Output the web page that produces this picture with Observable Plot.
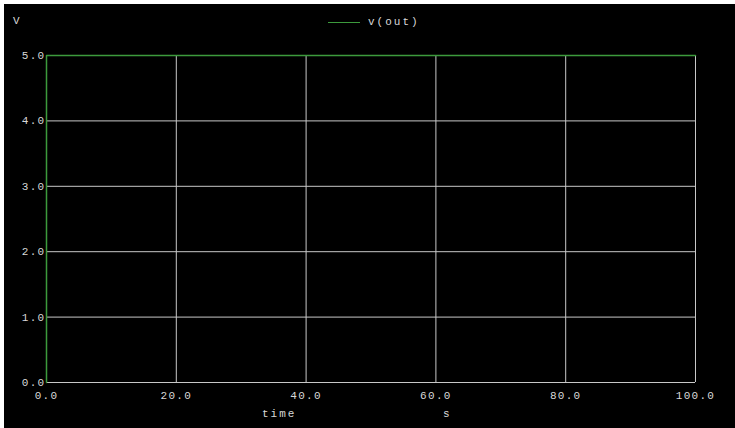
<!DOCTYPE html>
<html>
<head>
<meta charset="utf-8">
<script src="https://cdn.jsdelivr.net/npm/d3@7"></script>
<script src="https://cdn.jsdelivr.net/npm/@observablehq/plot@0.6"></script>
<style>
  html, body { margin: 0; padding: 0; background: #fff; }
  body { padding: 4px 0 0 4px; width: 735px; height: 428px; box-sizing: border-box; overflow: hidden; }
  #wrap { position: relative; width: 731px; height: 424px; background: #000; }
  #wrap svg text { letter-spacing: 1.3px; }
  .lbl { position: absolute; font-family: "Liberation Mono", "DejaVu Sans Mono", monospace; font-size: 11px; line-height: 11px; color: #d8d8d8; letter-spacing: 2px; white-space: nowrap; }
  .leg-line { position: absolute; height: 1px; background: #3c9a3c; }
</style>
</head>
<body>
<div id="wrap"></div>
<script>
const time = [0, 0, 100];
const vout = [0, 5, 5];
const xTicks = [0, 20, 40, 60, 80, 100];
const yTicks = [0, 1, 2, 3, 4, 5];
const seriesName = "v(out)";
const yUnit = "V";
const xLabel = "time";
const xUnit = "s";

const data = time.map((t, i) => ({time: t, v: vout[i]}));
const gridColor = "#c8c8c8";
const lineColor = "#3c9a3c";

const chart = Plot.plot({
  width: 731,
  height: 424,
  marginLeft: 42,
  marginRight: 40,
  marginTop: 51,
  marginBottom: 46,
  style: {background: "#000", color: "#d8d8d8", fontFamily: "Liberation Mono, DejaVu Sans Mono, monospace", fontSize: "11px"},
  x: {domain: [0, 100]},
  y: {domain: [0, 5]},
  marks: [
    Plot.gridX(xTicks, {stroke: gridColor, strokeOpacity: 1}),
    Plot.gridY(yTicks, {stroke: gridColor, strokeOpacity: 1}),
    Plot.axisX(xTicks, {tickSize: 0, tickPadding: 9, label: null, tickFormat: d => d.toFixed(1), fill: "#d8d8d8"}),
    Plot.axisY(yTicks, {tickSize: 0, tickPadding: 1, label: null, tickFormat: d => d.toFixed(1), fill: "#d8d8d8"}),
    Plot.line(data, {x: "time", y: "v", stroke: lineColor, strokeWidth: 1.5})
  ]
});
const wrap = document.getElementById("wrap");
wrap.appendChild(chart);

function addLabel(text, left, top) {
  const d = document.createElement("div");
  d.className = "lbl";
  d.textContent = text;
  d.style.left = left + "px";
  d.style.top = top + "px";
  wrap.appendChild(d);
}
addLabel(yUnit, 9, 12);
const ll = document.createElement("div");
ll.className = "leg-line";
ll.style.left = "324px"; ll.style.width = "32px"; ll.style.top = "18px";
wrap.appendChild(ll);
addLabel(seriesName, 364, 13);
addLabel(xLabel, 258, 405);
addLabel(xUnit, 439, 405);
</script>
</body>
</html>
